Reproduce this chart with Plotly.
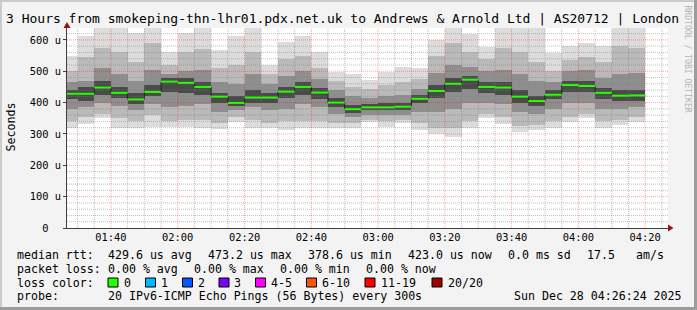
import plotly.graph_objects as go
import pandas as pd

# ---------------- data ----------------
bar_end = pd.date_range("2025-12-28 01:30", periods=35, freq="5min")  # end time of each 5-min step

median = [428, 428, 448, 431, 410, 434, 467, 463, 450, 419,
          399, 416, 416, 435, 450, 432, 400, 379, 385, 385,
          387, 412, 437, 460, 473, 450, 448, 419, 405, 425,
          456, 453, 431, 422, 423]
ping_max = [550, 611, 640, 640, 622, 640, 563, 622, 640, 568,
            611, 637, 520, 593, 611, 563, 497, 492, 472, 499,
            515, 510, 600, 640, 618, 579, 637, 640, 640, 557,
            581, 591, 581, 640, 640]
ping_min = [318, 331, 350, 320, 318, 323, 323, 323, 320, 316,
            337, 320, 318, 313, 320, 320, 318, 318, 337, 323,
            335, 313, 299, 290, 320, 350, 332, 307, 313, 318,
            339, 350, 318, 329, 339]
p90 = [500, 545, 575, 560, 530, 590, 520, 560, 570, 510,
       520, 560, 490, 540, 550, 510, 470, 450, 445, 455,
       465, 475, 550, 590, 560, 540, 575, 560, 530, 500,
       535, 545, 530, 580, 575]
p10 = [340, 355, 365, 350, 340, 360, 340, 345, 345, 335,
       355, 345, 335, 340, 340, 340, 335, 335, 345, 340,
       345, 335, 320, 320, 340, 365, 355, 325, 330, 340,
       355, 365, 340, 345, 355]
p75 = [465, 470, 510, 490, 470, 505, 490, 500, 505, 465,
       460, 490, 460, 485, 500, 475, 440, 420, 415, 420,
       425, 445, 495, 520, 515, 500, 505, 490, 470, 465,
       500, 505, 480, 490, 495]
p25 = [380, 385, 400, 390, 375, 395, 385, 390, 395, 370,
       375, 385, 375, 380, 395, 385, 365, 355, 360, 360,
       362, 370, 370, 380, 400, 400, 395, 370, 365, 380,
       400, 400, 380, 380, 385]
p60 = [440, 450, 470, 450, 430, 455, 478, 480, 465, 432,
       420, 440, 432, 450, 465, 448, 415, 392, 395, 398,
       400, 425, 455, 478, 485, 465, 465, 440, 420, 440,
       470, 470, 448, 440, 440]
p40 = [412, 405, 425, 415, 395, 420, 435, 430, 425, 400,
       388, 400, 400, 415, 425, 410, 385, 368, 375, 375,
       378, 398, 415, 435, 445, 430, 425, 400, 390, 410,
       435, 435, 412, 405, 405]

ytick_vals = [0, 100, 200, 300, 400, 500, 600]
ytick_text = ["\u00a0\u00a00\u00a0\u00a0", "100 u", "200 u", "300 u", "400 u", "500 u", "600 u"]

title = "3 Hours from smokeping-thn-lhr01.pdx.net.uk to Andrews &amp; Arnold Ltd | AS20712 | London"
legend_rows = [
    [("median rtt:", 16), ("429.6 us avg", 107), ("473.2 us max", 207), ("378.6 us min", 307),
     ("423.0 us now", 407), ("0.0 ms sd", 507), ("17.5", 586), ("am/s", 635)],
    [("packet loss:", 16), ("0.00 % avg", 107), ("0.00 % max", 193), ("0.00 % min", 279),
     ("0.00 % now", 365)],
    [("loss color:", 16)],
    [("probe:", 16), ("20 IPv6-ICMP Echo Pings (56 Bytes) every 300s", 107),
     ("Sun Dec 28 04:26:24 2025", 513)],
]
loss_labels = ["0", "1", "2", "3", "4-5", "6-10", "11-19", "20/20"]
loss_colors = ["#26ff00", "#00b8ff", "#0059ff", "#7e00ff", "#ff00ff", "#ff5500", "#ff0000", "#a10000"]
loss_box_x = [108, 145.5, 182.5, 219, 255.5, 306.5, 365, 432]
loss_text_x = [123, 160, 197, 233, 270, 321, 380, 447]

# ---------------- geometry ----------------
W, H = 697, 310
L, R, T, B = 67, 668, 28, 228
FONT = "DejaVu Sans Mono"
x_start = pd.Timestamp("2025-12-28 01:26:50")
x_stop = pd.Timestamp("2025-12-28 04:26:50")
y_top = 638

def px(x):
    return (x - L) / (R - L)

def py(y):
    return (B - y) / (B - T)

step = pd.Timedelta(minutes=5)
centers = bar_end - step / 2
bar_start = bar_end - step

fig = go.Figure()

# smoke bands, light to dark
levels = [
    (ping_min, ping_max, "#dcdcdc"),
    (p10, p90, "#bababa"),
    (p25, p75, "#8e8e8e"),
    (p40, p60, "#4a4a4a"),
]
for lo, hi, col in levels:
    fig.add_trace(go.Bar(
        x=centers, y=[h - l for l, h in zip(lo, hi)], base=lo,
        width=300000, marker=dict(color=col, line=dict(width=0)),
        hoverinfo="skip", showlegend=False))

# grid (drawn above smoke, like rrdtool)
def hlines(vals):
    xs, ys = [], []
    for v in vals:
        xs += [x_start, x_stop, None]
        ys += [v, v, None]
    return xs, ys

def vlines(times):
    xs, ys = [], []
    for t in times:
        xs += [t, t, None]
        ys += [0, y_top, None]
    return xs, ys

minor_y = [v for v in range(20, y_top, 20) if v % 100]
major_y = [v for v in range(100, y_top, 100)]
grid_times = pd.date_range("2025-12-28 01:30", "2025-12-28 04:25", freq="5min")
major_t = [t for t in grid_times if t.minute % 20 == 0]
minor_t = [t for t in grid_times if t.minute % 20 != 0]

for (xs, ys), col in [(hlines(minor_y), "rgba(128,128,128,0.5)"),
                      (vlines(minor_t), "rgba(128,128,128,0.5)"),
                      (hlines(major_y), "rgba(255,0,0,0.35)"),
                      (vlines(major_t), "rgba(255,0,0,0.35)")]:
    fig.add_trace(go.Scatter(x=xs, y=ys, mode="lines",
                             line=dict(color=col, width=1, dash="1px,1px"),
                             hoverinfo="skip", showlegend=False))

# median: dark step connector + loss coloured segments
fig.add_trace(go.Scatter(x=list(bar_start) + [bar_end[-1]], y=median + [median[-1]],
                         mode="lines", line=dict(color="#202020", width=1, shape="hv"),
                         hoverinfo="skip", showlegend=False))
sx, sy = [], []
for s, e, m in zip(bar_start, bar_end, median):
    sx += [s, e, None]
    sy += [m, m, None]
fig.add_trace(go.Scatter(x=sx, y=sy, mode="lines", line=dict(color=loss_colors[0], width=2),
                         hoverinfo="skip", showlegend=False))

fig.update_layout(
    width=W, height=H,
    margin=dict(l=L, r=W - R, t=T, b=H - B),
    paper_bgcolor="#f3f3f3", plot_bgcolor="#ffffff",
    barmode="overlay", bargap=0,
    font=dict(family=FONT, size=10.4, color="#000000"),
    showlegend=False,
    xaxis=dict(type="date", range=[x_start, x_stop], tick0="2025-12-28 01:40", dtick=1200000,
               tickformat="%H:%M", showgrid=False, zeroline=False, showline=True,
               linecolor="#404040", linewidth=1, ticks="", tickfont=dict(family=FONT, size=10.4),
               fixedrange=True),
    yaxis=dict(range=[0, y_top], tickvals=ytick_vals, ticktext=ytick_text, showgrid=False,
               zeroline=False, showline=True, linecolor="#404040", linewidth=1,
               ticks="outside", ticklen=3, tickcolor="#404040",
               tickfont=dict(family=FONT, size=10.4), fixedrange=True),
)

def txt(s, x, y, size=11.6, anchor="left", color="#000000", angle=0):
    fig.add_annotation(text=s, x=px(x), y=py(y), xref="paper", yref="paper",
                       xanchor=anchor, yanchor="middle", showarrow=False, borderpad=0,
                       textangle=angle, font=dict(family=FONT, size=size, color=color))

txt(title, 5, 18.5, size=13)
txt("Seconds", 10, 127.5, anchor="center", angle=-90)
txt("RRDTOOL / TOBI OETIKER", 687.5, 59, size=8.1, anchor="center", color="#b4b4b4", angle=90)

row_y = [255, 268.5, 282.5, 295.5]
for row, yy in zip(legend_rows, row_y):
    for s, xx in row:
        txt(s, xx, yy)

shapes = []
for bx, tx, lab, col in zip(loss_box_x, loss_text_x, loss_labels, loss_colors):
    shapes.append(dict(type="rect", xref="paper", yref="paper",
                       x0=px(bx), x1=px(bx + 10), y0=py(287), y1=py(278),
                       fillcolor=col, line=dict(color="#000000", width=1)))
    txt(lab, tx, row_y[2])

# arrows at axis ends
shapes.append(dict(type="path", xref="paper", yref="paper",
                   path=f"M {px(668)},{py(224.5)} L {px(673.5)},{py(228)} L {px(668)},{py(231.5)} Z",
                   fillcolor="#a01010", line=dict(width=0)))
shapes.append(dict(type="path", xref="paper", yref="paper",
                   path=f"M {px(63.5)},{py(28)} L {px(67)},{py(22)} L {px(70.5)},{py(28)} Z",
                   fillcolor="#a01010", line=dict(width=0)))
# frame
shapes += [
    dict(type="rect", xref="paper", yref="paper", x0=px(0), x1=px(697), y0=py(2), y1=py(0),
         fillcolor="#cbcbcb", line=dict(width=0), layer="below"),
    dict(type="rect", xref="paper", yref="paper", x0=px(0), x1=px(2), y0=py(310), y1=py(0),
         fillcolor="#cbcbcb", line=dict(width=0), layer="below"),
    dict(type="rect", xref="paper", yref="paper", x0=px(0), x1=px(697), y0=py(310), y1=py(307),
         fillcolor="#9c9c9c", line=dict(width=0), layer="below"),
    dict(type="rect", xref="paper", yref="paper", x0=px(694), x1=px(697), y0=py(310), y1=py(0),
         fillcolor="#9c9c9c", line=dict(width=0), layer="below"),
]
fig.update_layout(shapes=shapes)

fig.write_html("out.html", config={"displayModeBar": False})
